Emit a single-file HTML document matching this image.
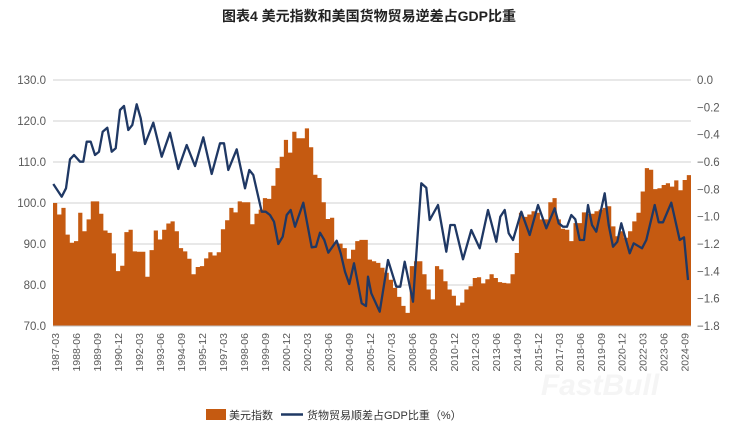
<!DOCTYPE html>
<html><head><meta charset="utf-8"><style>
body{margin:0;background:#fff;width:738px;height:440px;overflow:hidden;font-family:"Liberation Sans","Noto Sans CJK SC",sans-serif}
</style></head><body>
<svg id="s" width="738" height="440" xmlns="http://www.w3.org/2000/svg" font-family="Liberation Sans, Noto Sans CJK SC, sans-serif">
<text x="369" y="21" text-anchor="middle" font-size="14" font-weight="bold" fill="#222">图表4 美元指数和美国货物贸易逆差占GDP比重</text>
<g id="grid"></g><g id="bars"></g><g id="line"></g><g id="ax"></g>
<text x="600" y="395" font-size="30" font-weight="bold" fill="#f5f5f5" text-anchor="middle" font-style="italic">FastBull</text>
<rect x="206" y="409" width="20" height="11" fill="#c55a11"/>
<text x="229" y="419" font-size="11" fill="#333">美元指数</text>
<line x1="281" y1="414.5" x2="303" y2="414.5" stroke="#1f3864" stroke-width="2.5"/>
<text x="307" y="419" font-size="11" fill="#333">货物贸易顺差占GDP比重（%）</text>
</svg>
<script>
var ns="http://www.w3.org/2000/svg";
function el(p,t,a,txt){var e=document.createElementNS(ns,t);for(var k in a)e.setAttribute(k,a[k]);if(txt!=null)e.textContent=txt;document.getElementById(p).appendChild(e);return e;}
var X0=53,X1=691,Y0=80,Y1=326,N=152,W=(X1-X0)/N;
function vy(v){return Y1-(v-70)/60*(Y1-Y0);}
for(var i=0;i<=6;i++){var y=Y0+i*(Y1-Y0)/6;
 if(i<6)el("grid","line",{x1:X0,x2:X1,y1:y,y2:y,stroke:"#d9d9d9","stroke-width":1.3});
 el("ax","text",{x:46,y:y+4,"font-size":11.5,fill:"#595959","text-anchor":"end"},(130-10*i).toFixed(1));
}
for(var i=0;i<=9;i++){var y=Y0+i*(Y1-Y0)/9;
 el("ax","text",{x:697,y:y+4,"font-size":11.5,fill:"#595959"},(i==0?"0.0":"\u2212"+(i*0.2).toFixed(1)));}
el("ax","line",{x1:X0,x2:X1,y1:Y1,y2:Y1,stroke:"#bfbfbf","stroke-width":1});
var b=[100,97.2,98.8,92.3,90.3,90.7,97.6,93.1,96,100.4,100.4,97.4,93.3,92.7,87.7,83.4,84.7,92.9,93.5,88.2,88.1,88.1,82,88.5,93.3,91.1,93.5,95,95.5,93.1,89,88.2,86.4,82.6,84.4,84.6,86.5,88,87.2,88,93.6,95.8,98.8,97.7,100.4,100.2,100.2,94.8,97.4,98.4,101.2,101,104.2,108.5,111.3,115.4,112.3,117.4,115.8,115.8,118.2,113.6,106.9,106.1,100.2,96.1,96.4,90.3,90.1,89,86.4,88.6,90.7,91,91,
86.2,85.8,85.4,84.2,83,81.3,79.3,77.1,74.9,73.2,84.6,85.8,85.8,82.6,78.9,76.5,84.6,83.8,80.9,78.9,77.4,75,75.7,78.9,79.7,81.7,81.9,80.4,81.4,82.6,81.7,80.7,80.5,80.4,82.6,87.8,97.6,96.6,97.2,98,97.6,96,96,100.2,101.2,96,93.7,93.5,90.7,95.1,95.1,97.7,97.4,97.4,98,98.4,98.8,99.2,94.3,91.9,93.1,91.5,93.1,95.5,97.6,102.8,108.5,108.1,103.4,103.6,104.4,104.8,104,105.5,103.1,105.6,106.8];
var d="M"+X0+","+Y1;
for(var i=0;i<N;i++){var v=b[i]||b[b.length-1];var y=vy(v).toFixed(1);d+=" L"+(X0+i*W).toFixed(2)+","+y+" L"+(X0+(i+1)*W).toFixed(2)+","+y;}
d+=" L"+X1+","+Y1+"Z";
el("bars","path",{d:d,fill:"#c55a11"});
var z1=[[160,372],[185,410],[198,385],[210,298],[222,285],[240,305],[250,305],[260,245],[272,245],[285,285],[297,275],[308,215],[322,203],[335,275],[347,265],[360,150],[372,138],[385,210],[397,195],[410,133],[422,175],[435,252],[460,188],[485,290],[510,218],[535,327],[560,255],[585,318],[610,232],[635,342],[660,250],[672,250],[685,330],[710,268],[735,385],[748,330],[760,345],[785,455],[797,455],[810,465],[822,485],[835,552],[848,530],[860,465],[872,450],[885,500],[910,428],[935,562],[948,560],[960,518],[973,540],[985,578],[1010,542],[1022,580],[1035,635],[1048,672],[1062,610],[1085,730],[1098,738],[1104,650]];
var z2=[[0,650],[10,700],[35,755],[60,600],[85,680],[97,680],[110,605],[135,725],[160,370],[175,383],[185,480],[210,435],[235,575],[247,495],[260,495],[285,598],[310,510],[335,565],[360,450],[385,545],[397,470],[410,450],[422,520],[435,540],[460,455],[485,525],[510,435],[535,505],[560,445],[572,490],[585,500],[597,500],[610,465],[622,478],[635,540],[648,540],[660,435],[672,495],[685,515],[710,400],[722,495],[735,560],[748,545],[760,490],[785,580],[797,550],[822,565],[835,540],[860,435],[872,487],[885,487],[910,428],[935,540],[948,532],[960,660]];
var pts=[];z1.forEach(function(p){pts.push((p[0]/3).toFixed(1)+","+(p[1]/3+60).toFixed(1));});
z2.forEach(function(p){pts.push((368+p[0]/3).toFixed(1)+","+(p[1]/3+60).toFixed(1));});
el("line","polyline",{points:pts.join(" "),fill:"none",stroke:"#1f3864","stroke-width":2.3,"stroke-linejoin":"round"});
for(var n=0;n<=30;n++){var q=5*n,yr=1987+Math.floor(q/4),m=["03","06","09","12"][q%4];
 var x=X0+(q+0.5)*W;
 el("ax","text",{transform:"translate("+(x+4).toFixed(1)+",333) rotate(-90)","font-size":10.5,fill:"#595959","text-anchor":"end"},yr+"-"+m);}
</script>
</body></html>
